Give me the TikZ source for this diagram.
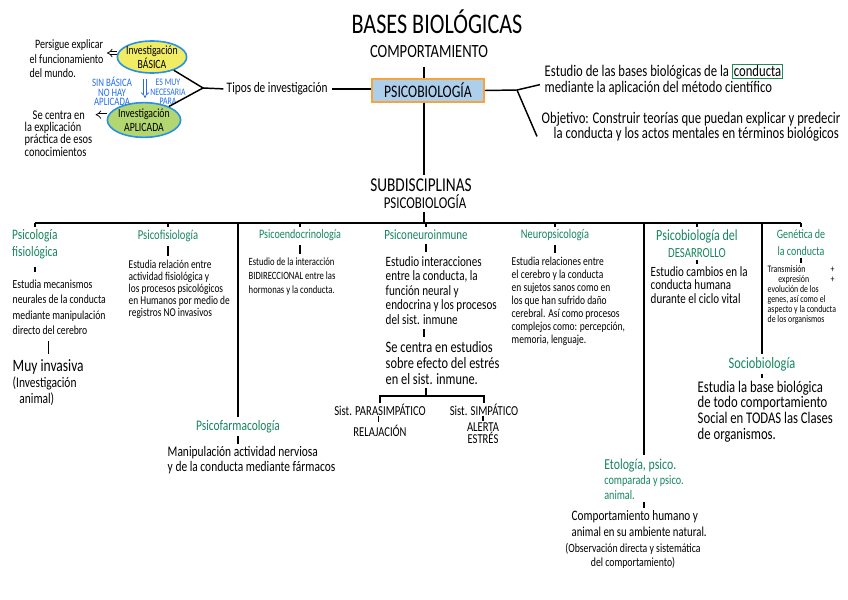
\documentclass[tikz,border=0pt]{standalone}
\usepackage{fontspec}
\setmainfont{Carlito}[FakeStretch=0.78]
\usetikzlibrary{arrows.meta,shapes.geometric}
\definecolor{titlegreen}{RGB}{22,133,92}
\definecolor{annoblue}{RGB}{35,110,235}
\definecolor{psicofill}{RGB}{173,207,236}
\definecolor{psicoborder}{RGB}{245,165,60}
\definecolor{basfill}{RGB}{240,236,100}
\definecolor{aplfill}{RGB}{178,214,112}
\definecolor{ellborder}{RGB}{40,145,230}
\definecolor{boxgreen}{RGB}{30,140,90}
\newcommand{\fsz}[2]{\fontsize{#1}{#2}\selectfont}

\begin{document}
\begin{tikzpicture}[x=0.75pt,y=0.75pt,yscale=-1,xscale=1,
  line width=1.1pt,
  every node/.style={inner sep=0pt},
  ttl/.style={text=titlegreen, align=center, anchor=north, font=\fsz{10.3}{12}},
  body/.style={align=left, anchor=north west},
  tickline/.style={line width=0.9pt, shorten <=#1, shorten >=#1},
  tickline/.default=3pt,
  dbl/.style={-Implies, double equal sign distance, line width=0.55pt},
  note/.style={text=annoblue, align=center, anchor=north, font=\fsz{8}{7.2}}
]
\useasboundingbox (0,0) rectangle (848,599);

% Text Node
\draw (437,22) node (bases) [font=\fsz{21.3}{24}] {BASES BIOLÓGICAS};
% Text Node
\draw (429,52) node (comport) [font=\fsz{14}{17}] {COMPORTAMIENTO};
%Shape: Rectangle
\draw (428,90.5) node (psico) [draw=psicoborder, fill=psicofill, line width=1.2pt, minimum width=84pt, minimum height=17pt, font=\fsz{13.2}{15}] {PSICOBIOLOGÍA};
\coordinate (stem) at (424,223);

%Straight Lines
\draw [shorten <=6pt] (comport.south -| stem) -- (psico.north -| stem) ;

%Shape: Ellipse
\draw (152,57) node (basica) [ellipse, draw=ellborder, fill=basfill, line width=1.2pt, inner xsep=-1.5pt, inner ysep=-0.5pt, minimum width=52pt, minimum height=24pt, align=center, font=\fsz{9.4}{10.5}] {Investigación\\BÁSICA};
%Shape: Ellipse
\draw (144,120) node (aplicada) [ellipse, draw=ellborder, fill=aplfill, line width=1.2pt, inner xsep=-1pt, minimum width=55pt, minimum height=26pt, align=center, font=\fsz{9.4}{10.5}] {Investigación\\APLICADA};

% Text Node
\draw (29,39) node (persigue) [body, font=\fsz{9.6}{10.9}] {\hspace*{4pt}Persigue explicar\\el funcionamiento\\del mundo.};
% Text Node
\draw (24,110) node (secentra) [body, font=\fsz{10}{9.2}] {\hspace*{6pt}Se centra en\\la explicación\\práctica de esos\\conocimientos};
\draw [dbl, shorten >=2pt] ([yshift=-3pt]basica.west) -- ([yshift=-3pt]basica.west -| persigue.east) ;
\draw [dbl, shorten >=2pt] ([yshift=-4pt]aplicada.west) -- ([yshift=-4pt]aplicada.west -| secentra.east) ;

% Text Node
\draw (112,76.5) node (sinbas) [note, font=\fsz{8.5}{7.2}] {SIN BÁSICA\\NO HAY\\APLICADA};
% Text Node
\draw (168,78.5) node (esmuy) [note, font=\fsz{7.5}{7}] {ES MUY\\NECESARIA\\PARA};
\coordinate (necup) at (145,79);
\coordinate (necdn) at (145,98);
\draw [dbl, annoblue] (necup) -- (necdn) ;

% Text Node
\draw (226,89) node (tipos) [anchor=west, font=\fsz{10.9}{12}] {Tipos de investigación};
\coordinate (tfork) at (203,88);
%Straight Lines
\draw (basica) -- (tfork) -- (aplicada) ;
\draw [shorten >=2pt] (tfork) -- (tipos.west) ;
\draw [shorten <=3pt] (tipos.east) -- (tipos.east -| psico.west) ;

% Text Node
\draw (544,63) node (estudio) [body, font=\fsz{12.2}{11.5}] {Estudio de las bases biológicas de la {\setlength{\fboxsep}{0.8pt}\setlength{\fboxrule}{0.6pt}\fcolorbox{boxgreen}{white}{conducta}}\\mediante la aplicación del método científico};
% Text Node
\draw (541,111) node (objetivo) [body, font=\fsz{12.2}{11.5}] {Objetivo: Construir teorías que puedan explicar y predecir\\\hspace*{9pt}la conducta y los actos mentales en términos biológicos};
\coordinate (rfork) at (517,90);
%Straight Lines
\draw (psico.east) -- (rfork) ;
\draw (rfork) -- ([xshift=-3pt,yshift=4pt]estudio.west) ;
\draw (rfork) -- ([xshift=-3pt,yshift=7.5pt]objetivo.west) ;

% Text Node
\draw (421,178) node (subdis) [anchor=north, align=center, font=\fsz{14.7}{12.75}] {SUBDISCIPLINAS\\{\fsz{12.4}{12.75}\hspace*{6pt}PSICOBIOLOGÍA}};
\draw [shorten >=2pt] (psico.south -| stem) -- (subdis.north -| stem) ;
\draw [shorten <=2pt] (subdis.south -| stem) -- (stem) ;

% Titles of the subdisciplines
\draw (35,229) node (fisiol) [ttl, align=left, font=\fsz{10.9}{12.75}] {Psicología\\fisiológica};
\draw (168,229) node (fisio) [ttl, font=\fsz{10.2}{12}] {Psicofisiología};
\draw (300,229) node (endocr) [ttl, font=\fsz{9.7}{12}] {Psicoendocrinología};
\draw (426,229) node (neuroinm) [ttl, font=\fsz{10.6}{12}] {Psiconeuroinmune};
\draw (555,229) node (neuropsi) [ttl, font=\fsz{10}{12}] {Neuropsicología};
\draw (697,229) node (desarr) [ttl, font=\fsz{11.6}{12.75}] {Psicobiología del\\{\fsz{10.4}{12.75}DESARROLLO}};
\draw (801,229) node (genet) [ttl, font=\fsz{9.6}{12.75}] {Genética de\\la conducta};
\draw (238,420) node (farma) [ttl, font=\fsz{11}{13}] {Psicofarmacología};
\draw (762,357) node (socio) [ttl, font=\fsz{11.9}{13}] {Sociobiología};
\draw (644,458) node (etol) [ttl, align=left, font=\fsz{9.8}{11.25}] {{\fsz{11.4}{11.25}Etología, psico.}\\comparada y psico.\\animal.};

%Straight Lines
\draw (fisiol.north |- stem) -- (genet.north |- stem) ;
\foreach \n in {fisiol,fisio,endocr,neuroinm,neuropsi,desarr,genet}
  \draw [shorten >=1.5pt] (\n.north |- stem) -- (\n.north) ;
\foreach \n in {farma,socio,etol}
  \draw [line width=1.5pt, shorten >=2pt] (\n.north |- stem) -- (\n.north) ;

% Psicologia fisiologica
\draw (12,279) node (fisioltext) [body, font=\fsz{9.3}{11.6}] {Estudia mecanismos\\neurales de la conducta\\mediante manipulación\\directo del cerebro};
\draw (12,359) node (invasiva) [body, font=\fsz{13}{12}] {Muy invasiva\\{\fsz{11}{12}(Investigación}\\{\fsz{11}{12}\hspace*{5pt}animal)}};
\draw [tickline=5pt] (fisiol.south) -- (fisiol.south |- fisioltext.north) ;
\draw [tickline=4pt] (fisioltext.south -| invasiva.north) -- (invasiva.north) ;

% Psicofisiologia
\draw (128,259.5) node (fisiotext) [body, font=\fsz{9}{8.9}] {Estudia relación entre\\actividad fisiológica y\\los procesos psicológicos\\en Humanos por medio de\\registros NO invasivos};
\draw [tickline] (fisio.south) -- (fisio.south |- fisiotext.north) ;

% Psicoendocrinologia
\draw (248,257) node (endocrtext) [body, font=\fsz{8.3}{10.5}] {Estudio de la interacción\\BIDIRECCIONAL entre las\\hormonas y la conducta.};
\draw [tickline=2.5pt] (endocr.south) -- (endocr.south |- endocrtext.north) ;

% Psiconeuroinmune
\draw (385,255.5) node (neuroinmtext) [body, font=\fsz{10.7}{10.9}] {Estudio interacciones\\entre la conducta, la\\función neural y\\endocrina y los procesos\\del sist. inmune};
\draw [tickline=2.5pt] (neuroinm.south) -- (neuroinm.south |- neuroinmtext.north) ;
\draw (385,341) node (centra) [body, font=\fsz{11.9}{12}] {Se centra en estudios\\sobre efecto del estrés\\en el sist. inmune.};
\draw [tickline] (neuroinmtext.south -| stem) -- (centra.north -| stem) ;
\coordinate (brk) at (426,396);
\draw (380,403) node (para) [anchor=north, font=\fsz{10.3}{10}] {Sist. PARASIMPÁTICO};
\draw (484,403) node (simp) [anchor=north, font=\fsz{10.3}{10}] {Sist. SIMPÁTICO};
\draw (380,424) node (relaj) [anchor=north, font=\fsz{10.2}{9}] {RELAJACIÓN};
\draw (483,422) node (alerta) [anchor=north, align=center, font=\fsz{10.2}{9.3}] {ALERTA\\ESTRÉS};
\draw [shorten <=2pt] (centra.south -| brk) -- (brk) ;
\draw (para.north) -- (para.north |- brk) -- (simp.north |- brk) -- (simp.north) ;
\draw [line width=0.9pt] ([xshift=-1pt]para.north) ++(0,13) -- ++(0,6) ;
\draw [line width=0.9pt] (simp.north -| alerta.north) ++(0,12.5) -- ++(0,5) ;

% Neuropsicologia
\draw (511,256.5) node (neuropsitext) [body, font=\fsz{9.1}{9.75}] {Estudia relaciones entre\\el cerebro y la conducta\\en sujetos sanos como en\\los que han sufrido daño\\cerebral. Así como procesos\\complejos como: percepción,\\memoria, lenguaje.};
\draw [tickline=2.5pt] (neuropsi.south) -- (neuropsi.south |- neuropsitext.north) ;

% Psicobiologia del desarrollo
\draw (650,266) node (desarrtext) [body, font=\fsz{10.6}{10}] {Estudio cambios en la\\conducta humana\\durante el ciclo vital};
\draw [tickline=1.5pt] (desarr.south) -- (desarr.south |- desarrtext.north) ;

% Genetica de la conducta
\draw (767,265) node (genettext) [body, font=\fsz{7.5}{7.5}] {\makebox[50pt][l]{Transmisión\hfill+}\\\hspace*{8pt}\makebox[42pt][l]{expresión\hfill+}\\evolución de los\\genes, así como el\\aspecto y la conducta\\de los organismos};
\draw [tickline=1.5pt] (genet.south) -- (genet.south |- genettext.north) ;

% Sociobiologia
\draw (697,380) node (sociotext) [body, font=\fsz{12.2}{11.8}] {Estudia la base biológica\\de todo comportamiento\\Social en TODAS las Clases\\de organismos.};
\draw [tickline=1.5pt] (socio.south) -- (socio.south |- sociotext.north) ;

% Psicofarmacologia
\draw (167,446) node (farmatext) [body, font=\fsz{11}{11.25}] {Manipulación actividad nerviosa\\y de la conducta mediante fármacos};
\draw [tickline=1.5pt] (farma.south) -- (farma.south |- farmatext.north) ;

% Etologia
\draw (571,510) node (etolbody) [body, font=\fsz{10.8}{12}] {Comportamiento humano y\\{\fsz{10.3}{12}animal en su ambiente natural.}};
\draw (633,543) node (obs) [anchor=north, align=center, font=\fsz{9.4}{10.5}] {(Observación directa y sistemática\\del comportamiento)};
\draw [tickline=1.5pt] (etol.south) -- (etol.south |- etolbody.north) ;

\end{tikzpicture}
\end{document}
